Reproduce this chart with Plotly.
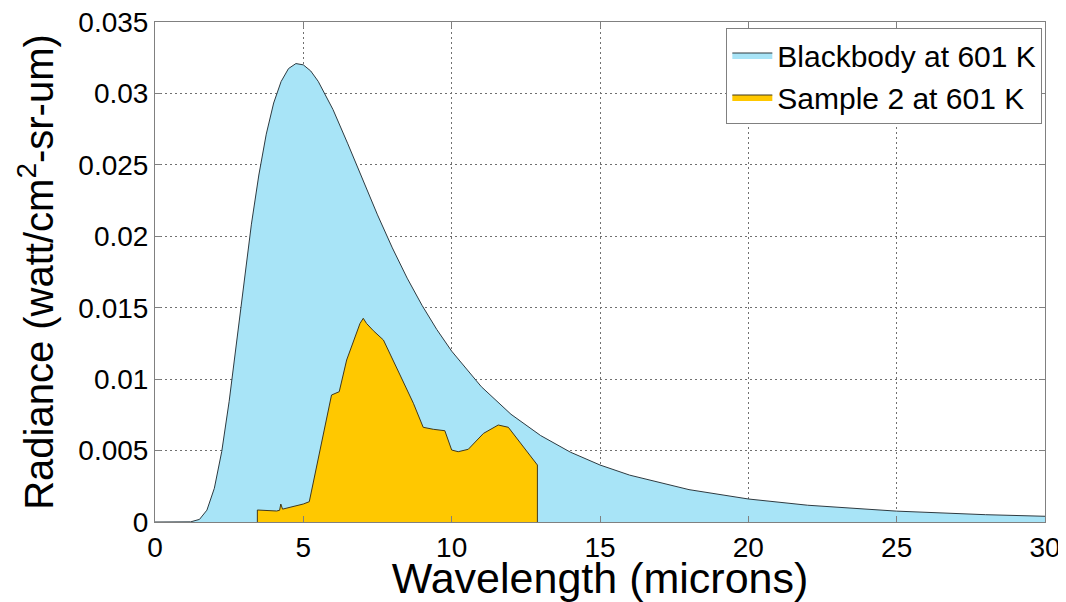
import plotly.graph_objects as go

# Blackbody radiance at 601 K
bb_wl = [0.0, 1.0, 1.2, 1.5, 1.75, 2.0, 2.25, 2.5, 2.75, 3.0, 3.25, 3.5, 3.75, 4.0,
         4.25, 4.5, 4.75, 5.0, 5.25, 5.5, 6.0, 6.5, 7.0, 7.5, 8.0, 8.5, 9.0, 9.5, 10.0,
         11.0, 12.0, 13.0, 14.0, 15.0, 16.0, 18.0, 20.0, 22.0, 25.0, 28.0, 30.0]
bb_rad = [0.0, 0.0, 0.00001, 0.000185, 0.00083, 0.00236, 0.00494, 0.00845, 0.01255,
          0.01678, 0.02085, 0.02429, 0.02715, 0.02933, 0.03083, 0.03174, 0.03209,
          0.0320, 0.03157, 0.03085, 0.02887, 0.02647, 0.02396, 0.0215, 0.01919, 0.01707,
          0.01517, 0.01347, 0.01196, 0.00947, 0.00754, 0.00605, 0.00489, 0.00399,
          0.00328, 0.002266, 0.001611, 0.001174, 0.00076, 0.000512, 0.000401]

# Sample 2 radiance at 601 K
s2_wl = [3.45, 3.45, 4.10, 4.20, 4.24, 4.30, 5.0, 5.2, 5.95, 6.21, 6.46, 6.91, 7.02,
         7.13, 7.36, 7.70, 8.26, 8.71, 9.04, 9.38, 9.77, 10.0, 10.22, 10.56, 11.07,
         11.57, 11.91, 12.41, 12.89, 12.89]
s2_rad = [0.0, 0.00084, 0.00077, 0.00082, 0.00126, 0.0009, 0.00126, 0.00142, 0.00889,
          0.00912, 0.01134, 0.0139, 0.01426, 0.0139, 0.01339, 0.01274, 0.01029,
          0.00831, 0.00663, 0.00649, 0.00639, 0.00504, 0.00492, 0.00509, 0.0062,
          0.00679, 0.00663, 0.00527, 0.00399, 0.0]

x_ticks = [0, 5, 10, 15, 20, 25, 30]
y_ticks = [0, 0.005, 0.01, 0.015, 0.02, 0.025, 0.03, 0.035]
y_labels = ['0', '0.005', '0.01', '0.015', '0.02', '0.025', '0.03', '0.035']

fig = go.Figure()
fig.add_trace(go.Scatter(x=bb_wl, y=bb_rad, mode='lines', fill='tozeroy',
                         fillcolor='#a8e4f7', line=dict(color='#2e3a40', width=1),
                         name='Blackbody at 601 K'))
fig.add_trace(go.Scatter(x=s2_wl, y=s2_rad, mode='lines', fill='tozeroy',
                         fillcolor='#ffc800', line=dict(color='#40381c', width=1),
                         name='Sample 2 at 601 K'))

axis_common = dict(showline=True, linecolor='#808080', linewidth=1, mirror='ticks',
                   ticks='inside', ticklen=6, tickcolor='#808080', automargin=False,
                   ticklabeloverflow='allow',
                   showgrid=True, gridcolor='#707070', griddash='2px,3px', gridwidth=1,
                   zeroline=False, tickfont=dict(size=28, color='black'))

# page body has an 8px margin, so the figure is shifted accordingly
fig.update_layout(
    width=1058, height=594,
    margin=dict(l=147, r=21, t=14, b=80),
    paper_bgcolor='white', plot_bgcolor='white',
    font=dict(family='Liberation Sans, Arial', color='black'),
    xaxis=dict(range=[0, 30], tickvals=x_ticks,
               title=dict(text='Wavelength (microns)', font=dict(size=43), standoff=0),
               **axis_common),
    yaxis=dict(range=[0, 0.035], tickvals=y_ticks, ticktext=y_labels,
               title=dict(text='Radiance (watt/cm<sup>2</sup>-sr-um)', font=dict(size=40), standoff=12),
               **axis_common),
    legend=dict(x=0.997, y=0.988, xanchor='right', yanchor='top',
                bgcolor='white', bordercolor='#808080', borderwidth=1,
                font=dict(size=30), tracegroupgap=0, itemwidth=40),
    showlegend=True,
)

fig.write_html("out.html")
